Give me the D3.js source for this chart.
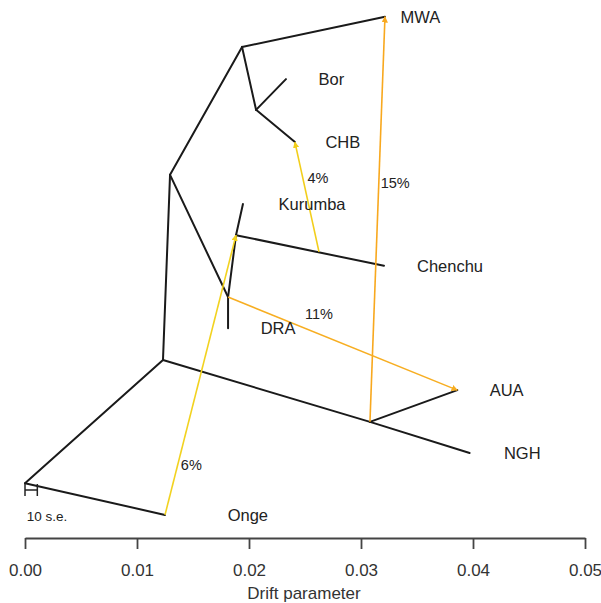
<!DOCTYPE html>
<html><head><meta charset="utf-8">
<script src="https://d3js.org/d3.v7.min.js"></script>
<style>body{margin:0;background:#fff}svg{display:block}</style>
</head><body>
<script>
// Tree nodes (drift parameter x, vertical layout y in [0,1])
const nodeNames = ["root","A","C","AUA","NGH","B","D","MWA","F","Bor","CHB","E","DRA","G","Kurumba","Chenchu","Onge"];
const nodeX = [0, 0.01232, 0.0308, 0.0386, 0.0397, 0.01295, 0.01938, 0.03214, 0.02063, 0.0233, 0.0241, 0.01813, 0.01813, 0.01884, 0.01946, 0.03205, 0.0125];
const nodeY = [0.090, 0.327, 0.208, 0.269, 0.148, 0.683, 0.929, 0.987, 0.808, 0.867, 0.746, 0.448, 0.388, 0.567, 0.627, 0.508, 0.029];
const edgeParent = ["root","root","A","A","C","C","B","B","D","D","F","F","E","E","G","G"];
const edgeChild  = ["A","Onge","C","B","AUA","NGH","D","E","MWA","F","Bor","CHB","DRA","G","Kurumba","Chenchu"];
// Leaf labels
const leafNames = ["MWA","Bor","CHB","Kurumba","Chenchu","DRA","AUA","NGH","Onge"];
const leafLabelX = [0.0353, 0.02735, 0.02838, 0.02563, 0.03795, 0.0226, 0.0430, 0.0444, 0.0199];
const leafLabelY = [0.987, 0.867, 0.746, 0.627, 0.508, 0.388, 0.269, 0.148, 0.029];
// Migration edges
const migFromX = [0.02625, 0.0308, 0.01813, 0.0125];
const migFromY = [0.535, 0.208, 0.448, 0.029];
const migTo = ["CHB","MWA","AUA","G"];
const migWeights = ["4%","15%","11%","6%"];
const migColors = ["#F2CE1B","#F8A81E","#F7AE22","#F2D21F"];
const migLabelX = [0.02615, 0.03305, 0.02625, 0.01485];
const migLabelY = [0.677, 0.667, 0.415, 0.125];
// Axis ticks
const ticks = [0, 0.01, 0.02, 0.03, 0.04, 0.05];

const W = 601, H = 603;
const svg = d3.select("body").append("svg").attr("width", W).attr("height", H);
const x = d3.scaleLinear().domain([0, 0.05]).range([25, 585]);
const y = d3.scaleLinear().domain([0, 1]).range([530, 10]);
const idx = n => nodeNames.indexOf(n);
const FONT = "Liberation Sans, Arial, sans-serif";

// tree edges
svg.append("g").selectAll("line").data(edgeParent.map((p,i)=>[p,edgeChild[i]])).join("line")
  .attr("x1", d=>x(nodeX[idx(d[0])])).attr("y1", d=>y(nodeY[idx(d[0])]))
  .attr("x2", d=>x(nodeX[idx(d[1])])).attr("y2", d=>y(nodeY[idx(d[1])]))
  .attr("stroke", "#1a1a1a").attr("stroke-width", 2).attr("stroke-linecap","round");

// migration edges with small arrowheads
const defs = svg.append("defs");
migColors.forEach((c,i)=>{
  defs.append("marker").attr("id","ah"+i).attr("viewBox","0 0 10 10").attr("refX",9).attr("refY",5)
    .attr("markerWidth",4).attr("markerHeight",4).attr("orient","auto")
    .append("path").attr("d","M0,0 L10,5 L0,10 z").attr("fill",c);
});
const mg = svg.append("g");
migTo.forEach((t,i)=>{
  mg.append("line")
    .attr("x1", x(migFromX[i])).attr("y1", y(migFromY[i]))
    .attr("x2", x(nodeX[idx(t)])).attr("y2", y(nodeY[idx(t)]))
    .attr("stroke", migColors[i]).attr("stroke-width", 1.6)
    .attr("marker-end","url(#ah"+i+")");
  svg.append("text").attr("x", x(migLabelX[i])).attr("y", y(migLabelY[i]))
    .attr("text-anchor","middle").attr("dominant-baseline","central")
    .attr("font-family",FONT).attr("font-size",14.5).attr("fill","#222").text(migWeights[i]);
});

// leaf labels
leafNames.forEach((n,i)=>{
  svg.append("text").attr("x", x(leafLabelX[i])).attr("y", y(leafLabelY[i]))
    .attr("text-anchor","middle").attr("dominant-baseline","central")
    .attr("font-family",FONT).attr("font-size",16.5).attr("fill","#222").text(n);
});

// scale bar "10 s.e."
const sbY = 490, sbX1 = x(0), sbX2 = x(0.0011);
const sb = svg.append("g").attr("stroke","#222").attr("stroke-width",1.5);
sb.append("line").attr("x1",sbX1).attr("x2",sbX2).attr("y1",sbY).attr("y2",sbY);
sb.append("line").attr("x1",sbX1).attr("x2",sbX1).attr("y1",sbY-6).attr("y2",sbY+6);
sb.append("line").attr("x1",sbX2).attr("x2",sbX2).attr("y1",sbY-6).attr("y2",sbY+6);
svg.append("text").attr("x", 47).attr("y", 516).attr("text-anchor","middle").attr("dominant-baseline","central")
  .attr("font-family",FONT).attr("font-size",13.5).attr("fill","#222").text("10 s.e.");

// x axis
const axis = svg.append("g").attr("transform","translate(0,538)")
  .call(d3.axisBottom(x).tickValues(ticks).tickFormat(d3.format(".2f")).tickSizeOuter(0).tickSizeInner(-11));
axis.select(".domain").attr("stroke","#444").attr("stroke-width",1.8);
axis.selectAll(".tick line").attr("stroke","#444").attr("stroke-width",1.8).attr("transform","translate(0,11)");
axis.selectAll(".tick text").attr("font-family",FONT).attr("font-size",17).attr("fill","#333")
  .attr("dy",0).attr("y",32).attr("dominant-baseline","central");
svg.append("text").attr("x", 304).attr("y", 593).attr("text-anchor","middle").attr("dominant-baseline","central")
  .attr("font-family",FONT).attr("font-size",17).attr("fill","#333").text("Drift parameter");
</script>
</body></html>
